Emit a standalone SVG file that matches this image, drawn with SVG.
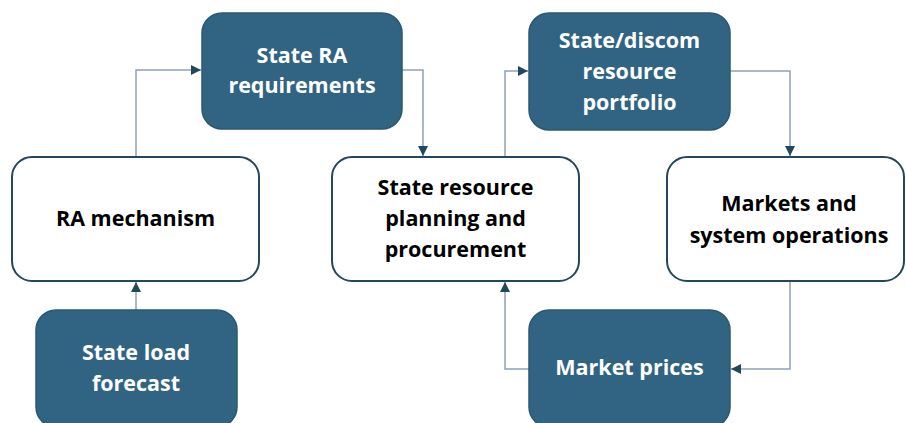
<svg xmlns="http://www.w3.org/2000/svg" width="906" height="423" viewBox="0 0 906 423">
<defs>
<style>
.dark{fill:#306482;stroke:#2a5870;stroke-width:1.5}
.light{fill:#ffffff;stroke:#23485c;stroke-width:2}
.tw{fill:#ffffff;font-family:"Open Sans","Noto Sans",sans-serif;font-weight:bold;font-size:21.5px;text-anchor:middle}
.tb{fill:#000000;font-family:"Open Sans","Noto Sans",sans-serif;font-weight:bold;font-size:21.5px;text-anchor:middle}
.conn{fill:none;stroke:#8ea2b2;stroke-width:1.5}
</style>
<marker id="ah" viewBox="0 0 10 10" refX="10" refY="5" markerWidth="10" markerHeight="10" markerUnits="userSpaceOnUse" orient="auto">
<path d="M0,0 L10,5 L0,10 z" fill="#23485c"/>
</marker>
</defs>
<rect width="906" height="423" fill="#ffffff"/>
<g id="connectors">
<path class="conn" d="M136,157 V70 H201" marker-end="url(#ah)"/>
<path class="conn" d="M402,70 H423 V156" marker-end="url(#ah)"/>
<path class="conn" d="M505,157 V71 H528" marker-end="url(#ah)"/>
<path class="conn" d="M730,71 H790 V156" marker-end="url(#ah)"/>
<path class="conn" d="M136,310 V282" marker-end="url(#ah)"/>
<path class="conn" d="M529,369 H505 V282" marker-end="url(#ah)"/>
<path class="conn" d="M790,281 V369 H731" marker-end="url(#ah)"/>
</g>
<g id="state-ra-requirements">
<rect class="dark" x="202" y="13" width="200" height="116" rx="20"/>
<text class="tw" x="302" y="63">State RA</text>
<text class="tw" x="302" y="93">requirements</text>
</g>
<g id="ra-mechanism">
<rect class="light" x="12" y="157" width="247" height="124" rx="20"/>
<text class="tb" x="135.5" y="226">RA mechanism</text>
</g>
<g id="state-resource-planning">
<rect class="light" x="332" y="157" width="247" height="124" rx="20"/>
<text class="tb" x="455.5" y="195">State resource</text>
<text class="tb" x="455.5" y="226">planning and</text>
<text class="tb" x="455.5" y="257">procurement</text>
</g>
<g id="state-discom-portfolio">
<rect class="dark" x="529" y="13" width="201" height="117" rx="20"/>
<text class="tw" x="629.5" y="48">State/discom</text>
<text class="tw" x="629.5" y="79">resource</text>
<text class="tw" x="629.5" y="110">portfolio</text>
</g>
<g id="markets-system-operations">
<rect class="light" x="667" y="157" width="237" height="124" rx="20"/>
<text class="tb" x="789" y="211">Markets and</text>
<text class="tb" x="789" y="243">system operations</text>
</g>
<g id="state-load-forecast">
<rect class="dark" x="36" y="310" width="201" height="117" rx="20"/>
<text class="tw" x="136" y="360">State load</text>
<text class="tw" x="136" y="391">forecast</text>
</g>
<g id="market-prices">
<rect class="dark" x="529" y="310" width="201" height="117" rx="20"/>
<text class="tw" x="629.5" y="375">Market prices</text>
</g>
</svg>
